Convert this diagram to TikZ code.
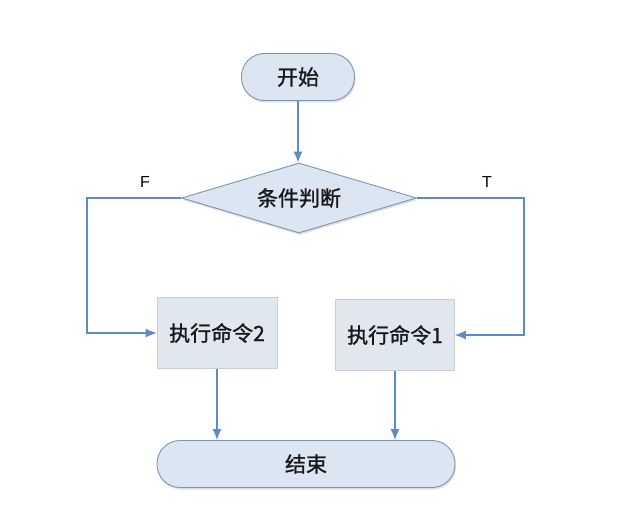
\documentclass[tikz,border=0pt]{standalone}
\usepackage{fontspec}
\setmainfont{Liberation Sans}
\newfontfamily\cjk[FakeBold=1.2]{Noto Sans CJK SC}
\usetikzlibrary{shapes.geometric,arrows.meta,shadows}
\definecolor{linecol}{HTML}{5B8BC9}
\definecolor{termfill}{HTML}{DCE6F2}
\definecolor{termdraw}{HTML}{7D95B0}
\definecolor{boxfill}{HTML}{E1E7EF}
\definecolor{boxdraw}{HTML}{C9CED6}
\begin{document}
\begin{tikzpicture}[x=1pt,y=-1pt,
  every node/.style={font=\cjk\fontsize{21}{25}\selectfont, text=black!90},
  term/.style={rounded corners=23pt, draw=termdraw, fill=termfill, line width=0.9pt,
    minimum height=47pt, drop shadow={shadow xshift=1pt, shadow yshift=-2pt, opacity=0.25}},
  decis/.style={diamond, aspect=3.36, draw=termdraw, fill=termfill, line width=0.9pt,
    minimum width=235pt, minimum height=70pt, inner sep=0pt,
    drop shadow={shadow xshift=1pt, shadow yshift=-2pt, opacity=0.25}},
  cmdbox/.style={draw=boxdraw, fill=boxfill, line width=0.6pt, minimum height=71pt, minimum width=120pt},
  conn/.style={draw=linecol, line width=1.1pt, -{Latex[length=11pt,width=9pt]}},
  lbl/.style={font=\fontsize{16}{19}\selectfont, text=black}
]
\useasboundingbox[fill=white] (0,0) rectangle (629,516);
\node[term, minimum width=113pt] (start) at (298,77) {开始};
\node[decis] (cond) at (299,198) {条件判断};
\node[cmdbox] (cmd2) at (217,333) {执行命令2};
\node[cmdbox, minimum width=119pt] (cmd1) at (395,335) {执行命令1};
\node[term, minimum width=298pt] (end) at (306,464) {结束};
\coordinate (lt) at (87,198);
\coordinate (rt) at (524,198);
\node[lbl] (F) at (145,182) {F};
\node[lbl] (T) at (487,182) {T};
\draw[conn] (start.south) -- (start.south |- cond.north);
\draw[conn] (cond.west) -- (lt) |- (cmd2.west);
\draw[conn] (cond.east) -- (rt) |- (cmd1.east);
\draw[conn] (cmd2.south) -- (cmd2.south |- end.north);
\draw[conn] (cmd1.south) -- (cmd1.south |- end.north);
\end{tikzpicture}
\end{document}
